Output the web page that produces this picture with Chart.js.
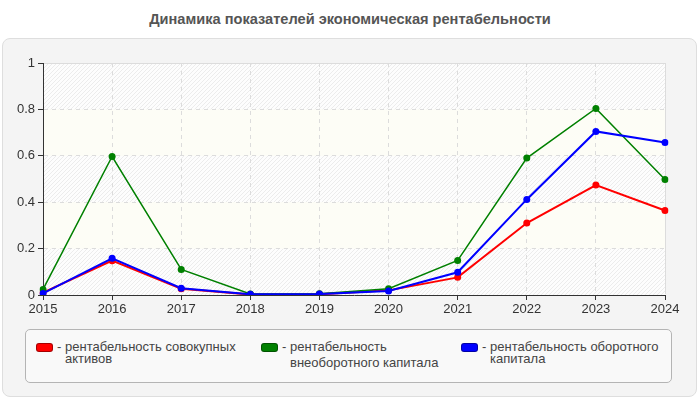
<!DOCTYPE html>
<html>
<head>
<meta charset="utf-8">
<script src="https://cdn.jsdelivr.net/npm/chart.js@4/dist/chart.umd.min.js"></script>
<style>
  html, body { margin:0; padding:0; background:#fff; width:700px; height:400px; overflow:hidden; font-family:"Liberation Sans", Arial, sans-serif; }
  #title { position:absolute; left:0; top:11px; width:700px; text-align:center; font-weight:bold; font-size:14.6px; color:#555; }
  #panel { position:absolute; left:2px; top:38px; width:693px; height:357px; background:#f4f4f4; border:1px solid #dedede; border-radius:8px; }
  #wrap { position:absolute; left:0; top:0; width:700px; height:330px; }
  #legend { position:absolute; left:25px; top:329px; width:645px; height:52px; background:#f9f9f9; border:1px solid #b4b4b4; border-radius:5px; }
  .item { position:absolute; top:11px; font-size:13px; color:#444; line-height:12px; }
  .sw { position:absolute; top:2px; width:15px; height:7px; border-radius:3px; border:1px solid rgba(0,0,0,0.35); }
  .dash { position:absolute; top:0; }
  .txt { position:absolute; top:0; }
</style>
</head>
<body>
<div id="title">Динамика показателей экономическая рентабельности</div>
<div id="panel"></div>
<div id="wrap"><canvas id="c" width="700" height="330"></canvas></div>
<div id="legend"></div>
<script>
const years = ["2015","2016","2017","2018","2019","2020","2021","2022","2023","2024"];
const totalAssets   = [0.01, 0.148, 0.027, 0.002, 0.003, 0.02, 0.076, 0.31, 0.474, 0.364];
const nonCurrent    = [0.024, 0.597, 0.11, 0.004, 0.005, 0.027, 0.149, 0.59, 0.804, 0.498];
const workingCap    = [0.007, 0.158, 0.029, 0.003, 0.004, 0.017, 0.098, 0.412, 0.705, 0.657];
const seriesNames = ["рентабельность совокупных активов", "рентабельность внеоборотного капитала", "рентабельность оборотного капитала"];
const seriesColors = ["#ff0000", "#008000", "#0000ff"];
const yTicks = [0, 0.2, 0.4, 0.6, 0.8, 1];
const yTickLabels = ["0", "0.2", "0.4", "0.6", "0.8", "1"];

// hatch pattern
const pc = document.createElement('canvas');
pc.width = 4; pc.height = 4;
const px = pc.getContext('2d');
px.fillStyle = '#fdfdfd'; px.fillRect(0,0,4,4);
px.strokeStyle = '#ececec'; px.lineWidth = 1;
px.beginPath(); px.moveTo(0,4); px.lineTo(4,0); px.moveTo(-1,1); px.lineTo(1,-1); px.moveTo(3,5); px.lineTo(5,3); px.stroke();

const bgPlugin = {
  id: 'bg',
  beforeDraw(chart) {
    const {ctx, chartArea: a, scales: {y}} = chart;
    ctx.save();
    ctx.fillStyle = ctx.createPattern(pc, 'repeat');
    ctx.fillRect(a.left, a.top, a.right - a.left, a.bottom - a.top);
    ctx.fillStyle = '#fdfdf6';
    for (let i = 0; i < yTicks.length - 1; i++) {
      if (i % 2 === 1) {
        const t = y.getPixelForValue(yTicks[i+1]), b = y.getPixelForValue(yTicks[i]);
        ctx.fillRect(a.left, t, a.right - a.left, b - t);
      }
    }
    ctx.restore();
  },
  beforeDatasetsDraw(chart) {
    const {ctx, chartArea: a} = chart;
    ctx.save();
    ctx.strokeStyle = '#dcdcdc'; ctx.lineWidth = 1;
    ctx.beginPath();
    ctx.moveTo(a.left + 1, a.top + 0.5); ctx.lineTo(a.right + 0.5, a.top + 0.5); ctx.lineTo(a.right + 0.5, a.bottom - 1);
    ctx.stroke();
    ctx.restore();
  }
};

const mk = (i, data, order, bw) => ({
  label: seriesNames[i], data, borderColor: seriesColors[i], backgroundColor: seriesColors[i],
  borderWidth: bw, pointRadius: 3.5, pointHoverRadius: 3.5, pointBorderWidth: 0, tension: 0, order, fill: false
});

new Chart(document.getElementById('c'), {
  type: 'line',
  data: { labels: years, datasets: [mk(0, totalAssets, 3, 2), mk(1, nonCurrent, 2, 1.5), mk(2, workingCap, 1, 2)] },
  plugins: [bgPlugin],
  options: {
    responsive: false, animation: false, devicePixelRatio: 1,
    layout: { padding: { top: 63, right: 35, left: 0, bottom: 0 } },
    plugins: { legend: { display: false }, tooltip: { enabled: false }, title: { display: false } },
    scales: {
      x: {
        offset: false,
        afterFit(s) { s.height = 35; },
        ticks: { color: '#333', font: { family: 'Liberation Sans', size: 13 }, padding: 2, maxRotation: 0, autoSkip: false },
        grid: { color: '#dcdcdc', tickColor: '#333', tickLength: 5, tickBorderDash: [], drawTicks: true },
        border: { color: '#333', width: 1, dash: [4, 4] }
      },
      y: {
        min: 0, max: 1,
        afterFit(s) { s.width = 43; },
        afterBuildTicks(s) { s.ticks = yTicks.map(v => ({ value: v })); },
        ticks: { color: '#333', font: { family: 'Liberation Sans', size: 13 }, padding: 3,
                 callback: (v) => yTickLabels[yTicks.indexOf(v)] },
        grid: { color: '#dcdcdc', tickColor: '#333', tickLength: 5, tickBorderDash: [] },
        border: { color: '#333', width: 1, dash: [4, 4] }
      }
    }
  }
});

// HTML legend built from series arrays
const legendPos = [ {sw: 10, txtW: 180, lh: 12, t: 0}, {sw: 235, txtW: 150, lh: 16, t: -2}, {sw: 435, txtW: 175, lh: 12, t: 0} ];
const lg = document.getElementById('legend');
seriesNames.forEach((n, i) => {
  const p = legendPos[i];
  const it = document.createElement('div');
  it.className = 'item'; it.style.left = p.sw + 'px';
  it.innerHTML = '<div class="sw" style="left:0;background:' + seriesColors[i] + '"></div>' +
    '<div class="dash" style="left:21px">-</div>' +
    '<div class="txt" style="left:29px;top:' + p.t + 'px;width:' + p.txtW + 'px;line-height:' + p.lh + 'px"></div>';
  it.querySelector('.txt').textContent = n;
  lg.appendChild(it);
});
</script>
</body>
</html>
